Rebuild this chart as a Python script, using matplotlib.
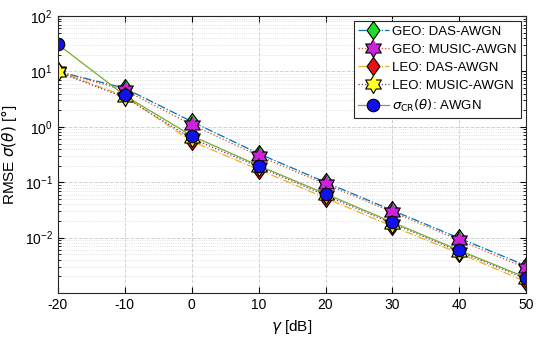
import numpy as np
import matplotlib.pyplot as plt

gamma_db = [-20, -10, 0, 10, 20, 30, 40, 50]

geo_das = [10.0, 5.0, 1.25, 0.33, 0.10, 0.031, 0.0098, 0.0031]
geo_music = [10.0, 4.6, 1.1, 0.30, 0.092, 0.029, 0.0090, 0.0028]
leo_das = [10.0, 3.6, 0.55, 0.17, 0.052, 0.016, 0.0052, 0.0016]
leo_music = [9.8, 3.4, 0.62, 0.19, 0.058, 0.018, 0.0056, 0.0018]
crb = [31.0, 3.7, 0.69, 0.20, 0.062, 0.019, 0.0059, 0.0019]

labels = ['GEO: DAS-AWGN', 'GEO: MUSIC-AWGN', 'LEO: DAS-AWGN',
          'LEO: MUSIC-AWGN', r'$\sigma_{\rm CR}(\theta)$: AWGN']

plt.rcParams['font.family'] = ['Liberation Sans', 'DejaVu Sans']
plt.rcParams['mathtext.fontset'] = 'dejavusans'

# six pointed star like matlab's hexagram, and a slightly tall diamond
ang = np.pi / 2 + np.arange(12) * np.pi / 6
rad = np.where(np.arange(12) % 2 == 0, 1.0, 0.577)
hexagram = list(zip(rad * np.cos(ang), rad * np.sin(ang)))
diamond = [(0, 1), (0.72, 0), (0, -1), (-0.72, 0), (0, 1)]

fig, ax = plt.subplots(figsize=(5.5, 3.42), dpi=100)

styles = [
    (geo_das, (0.0, 0.447, 0.741), '-.', diamond, '#22dd22', 13),
    (geo_music, (0.85, 0.325, 0.098), ':', hexagram, '#cc22dd', 13),
    (leo_das, (0.929, 0.694, 0.125), '-.', diamond, '#ee1111', 13),
    (leo_music, (0.494, 0.184, 0.556), ':', hexagram, '#ffff22', 13),
    (crb, (0.466, 0.674, 0.188), '-', 'o', '#1111ee', 9),
]
for (vals, lc, ls, mk, fc, ms), lab in zip(styles, labels):
    ax.semilogy(gamma_db, vals, color=lc, linestyle=ls, linewidth=0.9,
                marker=mk, markerfacecolor=fc, markeredgecolor='k',
                markeredgewidth=0.8, markersize=ms, label=lab)

ax.set_xlim(-20, 50)
ax.set_ylim(1e-3, 1e2)
ax.set_xticks(gamma_db)
ax.set_xticklabels([str(g) for g in gamma_db])
ax.set_yticks([1e-2, 1e-1, 1e0, 1e1, 1e2])
ax.grid(True, which='major', linestyle='--', color='#d0d0d0', linewidth=0.7)
ax.grid(True, which='minor', axis='y', linestyle=':', color='#d8d8d8', linewidth=0.6)
ax.tick_params(which='both', direction='in', top=True, right=True, labelsize=10)
ax.tick_params(which='major', length=4)
ax.tick_params(which='minor', length=2)
for s in ax.spines.values():
    s.set_color('#262626')
    s.set_linewidth(0.8)

ax.set_xlabel(r'$\gamma$ [dB]', fontsize=11)
ax.set_ylabel(r'RMSE $\sigma(\theta)$ [$\degree$]', fontsize=11)

leg = ax.legend(loc='upper right', fontsize=9.5, fancybox=False, framealpha=1,
                edgecolor='#262626', borderpad=0.3, labelspacing=0.45,
                handlelength=2.3, handletextpad=0.3, borderaxespad=0.4)
leg.get_frame().set_linewidth(0.8)

fig.subplots_adjust(left=0.105, right=0.957, top=0.953, bottom=0.143)
fig.savefig('out.png', dpi=100)
